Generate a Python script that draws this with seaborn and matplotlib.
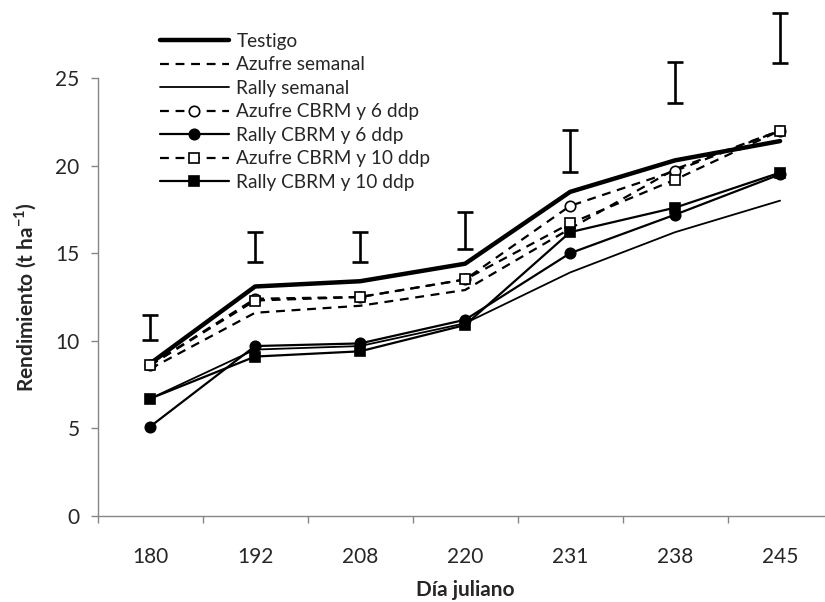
import numpy as np
import pandas as pd
import matplotlib
matplotlib.use("Agg")
import matplotlib.pyplot as plt
import seaborn as sns

# datos
dias = ["180", "192", "208", "220", "231", "238", "245"]

testigo = [8.7, 13.1, 13.4, 14.4, 18.5, 20.3, 21.4]
azufre_semanal = [8.4, 11.6, 12.0, 12.9, 16.4, 19.8, 22.0]
rally_semanal = [6.7, 9.5, 9.7, 11.0, 13.9, 16.2, 18.0]
azufre_6 = [8.6, 12.4, 12.5, 13.5, 17.7, 19.7, 22.0]
rally_6 = [5.1, 9.7, 9.85, 11.2, 15.0, 17.2, 19.5]
azufre_10 = [8.6, 12.3, 12.5, 13.5, 16.7, 19.2, 22.0]
rally_10 = [6.7, 9.1, 9.4, 10.9, 16.2, 17.6, 19.6]

# barras de error (DMS) flotantes
barra_centro = [10.76, 15.35, 15.35, 16.3, 20.84, 24.74, 27.28]
barra_mitad = [0.71, 0.85, 0.85, 1.05, 1.19, 1.19, 1.41]

series = ["Testigo", "Azufre semanal", "Rally semanal", "Azufre CBRM y 6 ddp",
          "Rally CBRM y 6 ddp", "Azufre CBRM y 10 ddp", "Rally CBRM y 10 ddp"]
valores = [testigo, azufre_semanal, rally_semanal, azufre_6, rally_6, azufre_10, rally_10]

df = pd.DataFrame({
    "pos": np.tile(np.arange(len(dias)), len(series)),
    "serie": np.repeat(series, len(dias)),
    "rend": np.concatenate(valores),
})

sns.set_style("white")
plt.rcParams["font.family"] = ["Lato", "DejaVu Sans"]
plt.rcParams["mathtext.fontset"] = "custom"
plt.rcParams["mathtext.rm"] = "Lato"
plt.rcParams["mathtext.bf"] = "Lato:bold"

fig = plt.figure(figsize=(8.25, 6.02), dpi=100)
ax = fig.add_axes([97.6 / 825, 86 / 602, 735 / 825, 438 / 602])

dash = (4, 3)
estilos = {
    "Testigo": dict(lw=3.2, dashes=None, marker=None, mfc=None),
    "Azufre semanal": dict(lw=1.6, dashes=dash, marker=None, mfc=None),
    "Rally semanal": dict(lw=1.3, dashes=None, marker=None, mfc=None),
    "Azufre CBRM y 6 ddp": dict(lw=1.6, dashes=dash, marker="o", mfc="white"),
    "Rally CBRM y 6 ddp": dict(lw=1.6, dashes=None, marker="o", mfc="black"),
    "Azufre CBRM y 10 ddp": dict(lw=1.6, dashes=dash, marker="s", mfc="white"),
    "Rally CBRM y 10 ddp": dict(lw=1.6, dashes=None, marker="s", mfc="black"),
}

for s in series:
    e = estilos[s]
    kw = dict(color="black", lw=e["lw"], label=s)
    if e["marker"]:
        kw.update(marker=e["marker"], markersize=7.5, markerfacecolor=e["mfc"],
                  markeredgecolor="black", markeredgewidth=1.2)
    sub = df[df["serie"] == s]
    sns.lineplot(data=sub, x="pos", y="rend", ax=ax, **kw)
    line = ax.get_lines()[-1]
    if e["dashes"]:
        line.set_dashes(e["dashes"])

ax.errorbar(np.arange(len(dias)), barra_centro, yerr=barra_mitad, fmt="none",
            ecolor="black", elinewidth=1.9, capsize=6, capthick=1.9, clip_on=False)

ax.set_xlim(-0.5, 6.5)
ax.set_ylim(0, 25)
ax.set_yticks([0, 5, 10, 15, 20, 25])
ax.set_xticks(np.arange(-0.5, 7, 1.0))
ax.set_xticklabels([])
ax.set_xticks(np.arange(len(dias)), minor=True)
ax.set_xticklabels(dias, minor=True)
ax.tick_params(axis="x", which="major", direction="out", length=5, width=1, color="#868686", bottom=True)
ax.tick_params(axis="x", which="minor", length=0, labelsize=15, pad=22)
ax.tick_params(axis="y", direction="out", length=5, width=1, color="#868686", labelsize=15, left=True, pad=8)

for sp in ["top", "right"]:
    ax.spines[sp].set_visible(False)
for sp in ["left", "bottom"]:
    ax.spines[sp].set_color("#868686")
    ax.spines[sp].set_linewidth(1)

ax.set_xlabel("Día juliano", fontsize=15, fontweight="bold", labelpad=10)
ax.set_ylabel(r"Rendimiento (t ha$^{\mathbf{-1}}$)", fontsize=15, fontweight="bold", labelpad=12)

ax.legend(loc="upper left", bbox_to_anchor=(160 / 825, 1 - 33 / 602), bbox_transform=fig.transFigure,
          frameon=False, fontsize=13.7, handlelength=3.6, handletextpad=0.42,
          labelspacing=0.34, borderpad=0, borderaxespad=0)

fig.savefig("out.png", dpi=100)
